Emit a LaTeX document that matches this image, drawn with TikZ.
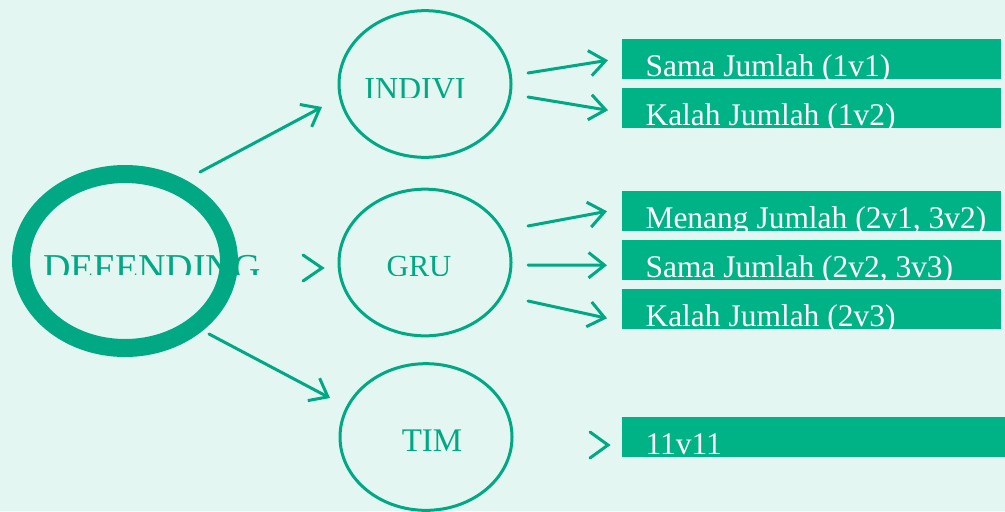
\documentclass[tikz,border=0pt]{standalone}
\usepackage{fontspec}
\setmainfont{Liberation Serif}
\usetikzlibrary{arrows.meta,shapes.geometric}
\definecolor{bg}{HTML}{E3F6F1}
\definecolor{ring}{HTML}{00A884}
\definecolor{boxc}{HTML}{00B386}
\begin{document}
\begin{tikzpicture}[x=0.75pt,y=-0.75pt,
  conn/.style={draw=ring, line width=2.25pt, line cap=round,
    -{Straight Barb[length=12pt,width=19pt]}},
  chev/.style={draw=ring, line width=2.25pt, line cap=round, line join=miter},
  oval/.style={ellipse, draw=ring, line width=2.25pt, inner sep=0,
    minimum width=129pt, minimum height=110pt},
  ringtext/.style={text=ring, inner sep=0, anchor=base},
  boxst/.style={fill=boxc, inner sep=0, anchor=north west,
    minimum width=284.25pt, minimum height=30pt,
    path picture={\node[anchor=base west, text=white, inner sep=0,
      minimum width=0pt, minimum height=0pt, fill=none, draw=none,
      font=\fontsize{23.6pt}{26pt}\selectfont]
      at ([shift={(23,-3)}]path picture bounding box.south west) {#1};}}]
\useasboundingbox (0,0) rectangle (1005,511);
\fill[bg] (0,0) rectangle (1005,511);

% main ring
\node[ellipse, draw=ring, line width=13.5pt, minimum width=156pt, minimum height=130.5pt, inner sep=0] (def) at (125,261) {};
\begin{scope}
  \clip (0,150) rectangle (300,274);
  \node[ringtext, font=\fontsize{28.5pt}{30pt}\selectfont] (deft) at (152,280) {DEFENDING};
\end{scope}

% second level
\node[oval] (indivi) at (425,84) {};
\node[oval] (gru) at (425,262.5) {};
\node[oval] (tim) at (426,437) {};
\begin{scope}
  \clip (340,40) rectangle (510,97);
  \node[ringtext, font=\fontsize{24pt}{26pt}\selectfont] (indivit) at (415,99) {INDIVI};
\end{scope}
\begin{scope}
  \clip (340,220) rectangle (510,275);
  \node[ringtext, font=\fontsize{23pt}{26pt}\selectfont] (grut) at (419,276) {GRU};
\end{scope}
\node[ringtext, font=\fontsize{24.75pt}{26pt}\selectfont] (timt) at (432,451) {TIM};

% connectors from DEFENDING
\draw[conn] ([shift={(75,-89)}]def.center) -- ([shift={(-103,23)}]indivi.center);
\draw[conn] ([shift={(84,73)}]def.center) -- ([shift={(-96,-39)}]tim.center);
\draw[chev] (303,255) -- (322,268) -- (303,281);

% boxes
\node[boxst={Sama Jumlah (1v1)}] (b1) at (622,39) {};
\node[boxst={Kalah Jumlah (1v2)}] (b2) at (622,88) {};
\node[boxst={Menang Jumlah (2v1, 3v2)}] (b3) at (622,191) {};
\node[boxst={Sama Jumlah (2v2, 3v3)}] (b4) at (622,240) {};
\node[boxst={Kalah Jumlah (2v3)}] (b5) at (622,289) {};
\node[boxst={11v11}, minimum width=287.25pt] (b6) at (622,417) {};

% connectors to boxes
\draw[conn] ([shift={(15.5,-11)}]indivi.east) -- ([shift={(-14,1)}]b1.west);
\draw[conn] ([shift={(15.5,13)}]indivi.east) -- ([shift={(-14,2)}]b2.west);
\draw[conn] ([shift={(15.5,-36.5)}]gru.east) -- ([shift={(-15,0)}]b3.west);
\draw[conn] ([shift={(15.5,2.5)}]gru.east) -- ([shift={(-15,5)}]b4.west);
\draw[conn] ([shift={(15.5,38.5)}]gru.east) -- ([shift={(-15,9)}]b5.west);
\draw[chev] (590,432) -- (608,445) -- (590,458);
\end{tikzpicture}
\end{document}
